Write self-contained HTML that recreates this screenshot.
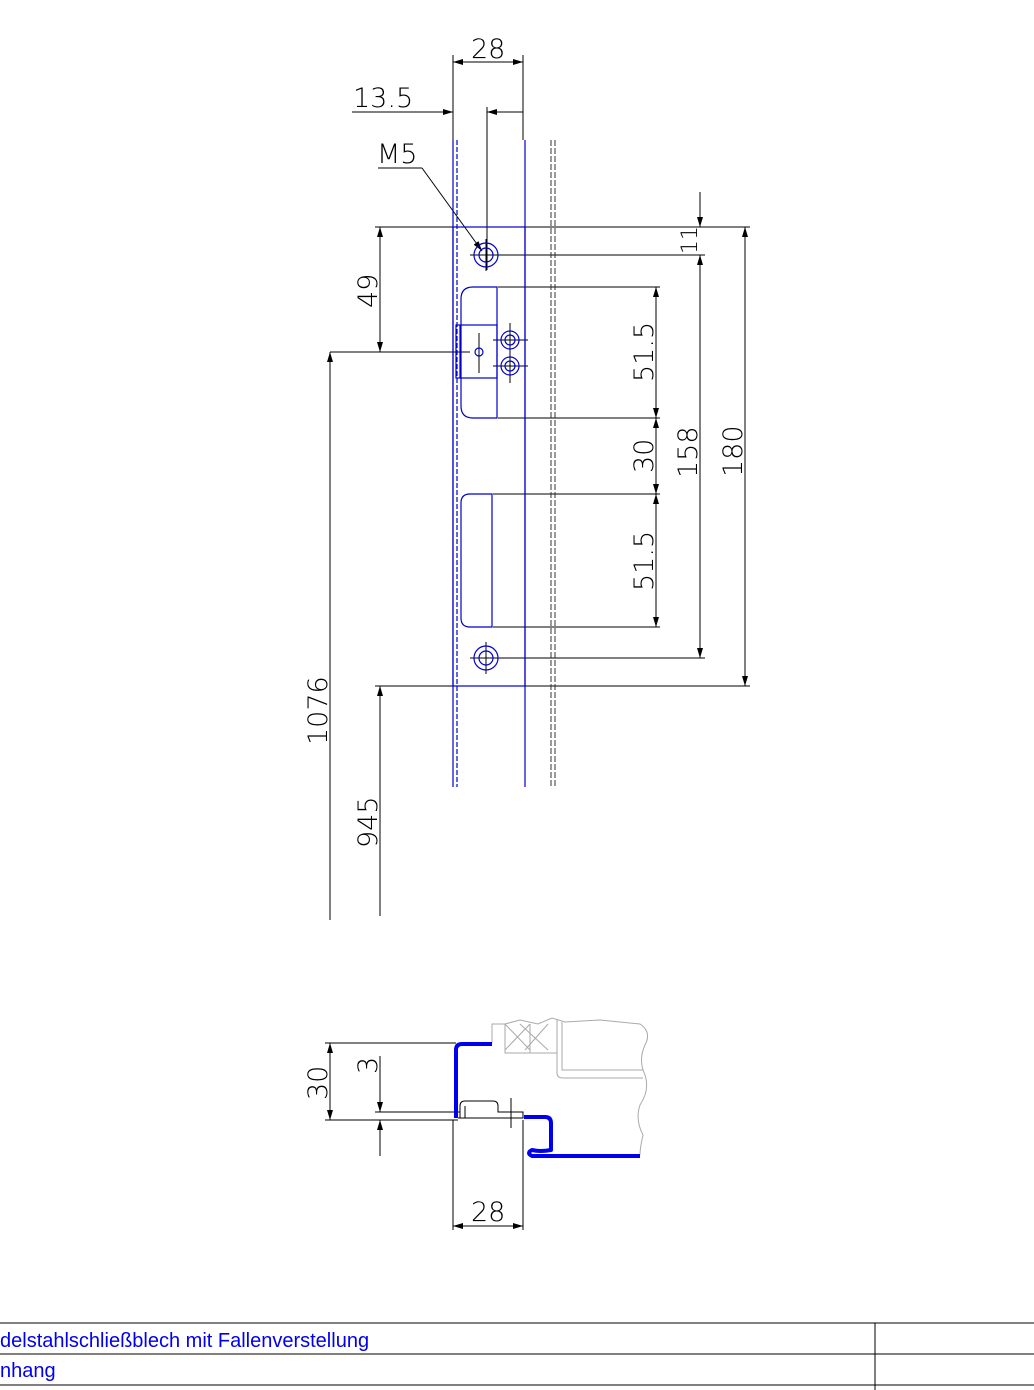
<!DOCTYPE html>
<html><head><meta charset="utf-8"><style>
body{margin:0;background:#fff;width:1034px;height:1390px;overflow:hidden}
svg{display:block}
text{font-family:"DejaVu Sans","Liberation Sans",sans-serif}
.d{font-size:27px;fill:#000;font-weight:200}
.t{font-family:"Liberation Sans",sans-serif;font-size:20px;fill:#0000ee}
</style></head><body>
<svg width="1034" height="1390" viewBox="0 0 1034 1390" xmlns="http://www.w3.org/2000/svg">
<defs>
<marker id="a" viewBox="0 0 10 6" refX="10" refY="3" markerWidth="14" markerHeight="6" markerUnits="userSpaceOnUse" orient="auto-start-reverse"><path d="M0,0L10,3L0,6z" fill="#000"/></marker>
</defs>
<g stroke="#000" stroke-width="1" fill="none">
<line x1="453" y1="55" x2="453" y2="140"/><line x1="523" y1="55" x2="523" y2="140"/>
<line x1="453" y1="62" x2="523" y2="62" marker-start="url(#a)" marker-end="url(#a)"/>
<line x1="352" y1="112" x2="453" y2="112" marker-end="url(#a)"/>
<line x1="523" y1="112" x2="487" y2="112" marker-end="url(#a)"/>
<line x1="487" y1="107" x2="487" y2="270"/>
<line x1="378" y1="168" x2="422" y2="168"/>
<line x1="422" y1="168" x2="482" y2="251" marker-end="url(#a)"/>
<line x1="498" y1="287" x2="660" y2="287"/><line x1="498" y1="418" x2="660" y2="418"/>
<line x1="493" y1="494" x2="660" y2="494"/><line x1="493" y1="627" x2="660" y2="627"/>
<line x1="500" y1="255" x2="705" y2="255"/><line x1="500" y1="658" x2="705" y2="658"/>
<line x1="375" y1="227" x2="750" y2="227"/><line x1="375" y1="686" x2="750" y2="686"/>
<line x1="656" y1="287" x2="656" y2="418" marker-start="url(#a)" marker-end="url(#a)"/>
<line x1="656" y1="418" x2="656" y2="494" marker-start="url(#a)" marker-end="url(#a)"/>
<line x1="656" y1="494" x2="656" y2="627" marker-start="url(#a)" marker-end="url(#a)"/>
<line x1="700" y1="255" x2="700" y2="658" marker-start="url(#a)" marker-end="url(#a)"/>
<line x1="700" y1="192" x2="700" y2="227" marker-end="url(#a)"/>
<line x1="745" y1="227" x2="745" y2="686" marker-start="url(#a)" marker-end="url(#a)"/>
<line x1="330" y1="352" x2="470" y2="352"/>
<line x1="380" y1="227" x2="380" y2="352" marker-start="url(#a)" marker-end="url(#a)"/>
<line x1="330" y1="352" x2="330" y2="920" marker-start="url(#a)"/>
<line x1="380" y1="686" x2="380" y2="916" marker-start="url(#a)"/>
<line x1="470" y1="255" x2="502" y2="255"/><line x1="486" y1="239" x2="486" y2="271"/>
<line x1="470" y1="658" x2="502" y2="658"/><line x1="486" y1="642" x2="486" y2="674"/>
<line x1="493" y1="340" x2="528" y2="340"/><line x1="510" y1="323" x2="510" y2="357"/>
<line x1="493" y1="366" x2="528" y2="366"/><line x1="510" y1="349" x2="510" y2="383"/>
<line x1="479" y1="333" x2="479" y2="373"/>
</g>
<g stroke="#0000cc" stroke-width="1.2" fill="none">
<line x1="453" y1="140" x2="453" y2="787"/>
<line x1="457" y1="140" x2="457" y2="787" stroke-dasharray="5,2"/>
<line x1="525" y1="140" x2="525" y2="787"/>
<rect x="453" y="227" width="72" height="459"/>
<circle cx="486" cy="255" r="12"/><circle cx="486" cy="255" r="7"/>
<circle cx="486" cy="658" r="12"/><circle cx="486" cy="658" r="7"/>
<path d="M497,287H473Q461,287 461,299V406Q461,418 473,418H497Z"/>
<path d="M492,494H470Q461,494 461,503V618Q461,627 470,627H492Z"/>
<rect x="456" y="325" width="41" height="53"/><line x1="460" y1="325" x2="460" y2="378"/>
<circle cx="479" cy="352" r="4"/>
<circle cx="510" cy="340" r="9"/><circle cx="510" cy="340" r="5"/>
<circle cx="510" cy="366" r="9"/><circle cx="510" cy="366" r="5"/>
</g>
<g stroke="#333" stroke-width="1" stroke-dasharray="6,2">
<line x1="551" y1="140" x2="551" y2="787"/><line x1="555" y1="140" x2="555" y2="787"/>
</g>
<text class="d" x="471" y="58">28</text>
<text class="d" x="353" y="107">13.5</text>
<text class="d" x="377" y="163">M5</text>
<text class="d" transform="translate(377,308) rotate(-90)">49</text>
<text class="d" transform="translate(327,745) rotate(-90)">1076</text>
<text class="d" transform="translate(377,848) rotate(-90)">945</text>
<text class="d" transform="translate(653,382) rotate(-90)">51.5</text>
<text class="d" transform="translate(653,473) rotate(-90)">30</text>
<text class="d" transform="translate(653,591) rotate(-90)">51.5</text>
<text class="d" transform="translate(697,478) rotate(-90)">158</text>
<text class="d" transform="translate(742,477) rotate(-90)">180</text>
<text class="d" transform="translate(697,254) rotate(-90)" style="font-size:22px">11</text>
<g stroke="#aaa" stroke-width="1" fill="none">
<path d="M492,1043V1024H505L520,1020L538,1024L552,1018L565,1022L600,1020L640,1024Q652,1032 645,1045Q638,1060 645,1075Q650,1090 640,1105Q635,1120 643,1135Q640,1148 640,1155"/>
<path d="M505,1024V1053H557V1020M557,1053V1073Q557,1078 563,1078H643M562,1022V1070H643"/>
<path d="M505,1024L530,1050M530,1024L505,1050M520,1024L548,1050M548,1024L525,1050M530,1024V1053"/>
</g>
<g stroke="#000" stroke-width="1" fill="none">
<line x1="325" y1="1043" x2="456" y2="1043"/><line x1="325" y1="1120" x2="458" y2="1120"/>
<line x1="375" y1="1112" x2="460" y2="1112"/>
<line x1="330" y1="1043" x2="330" y2="1120" marker-start="url(#a)" marker-end="url(#a)"/>
<line x1="380" y1="1056" x2="380" y2="1112" marker-end="url(#a)"/>
<line x1="380" y1="1156" x2="380" y2="1120" marker-end="url(#a)"/>
<line x1="453" y1="1120" x2="453" y2="1230"/><line x1="523" y1="1120" x2="523" y2="1230"/>
<line x1="453" y1="1226" x2="523" y2="1226" marker-start="url(#a)" marker-end="url(#a)"/>
<path d="M460,1118V1106Q460,1101 465,1101H493Q498,1101 498,1106V1112H523V1118H458"/>
<line x1="465" y1="1118" x2="465" y2="1106"/>
<line x1="511" y1="1098" x2="511" y2="1128"/>
</g>
<g stroke="#0000ee" stroke-width="4" fill="none" stroke-linejoin="round">
<path d="M492,1044H462Q456,1044 456,1050V1118"/>
<path d="M524,1117H545Q551,1117 551,1123V1150Q540,1152 532,1150Q526,1153 532,1156H640"/>
</g>
<text class="d" transform="translate(327,1100) rotate(-90)">30</text>
<text class="d" transform="translate(377,1074) rotate(-90)">3</text>
<text class="d" x="471" y="1221">28</text>
<g stroke="#000" stroke-width="1">
<line x1="0" y1="1323" x2="1034" y2="1323"/><line x1="0" y1="1354" x2="1034" y2="1354"/>
<line x1="0" y1="1385" x2="1034" y2="1385"/><line x1="875" y1="1323" x2="875" y2="1390"/>
</g>
<text class="t" x="0" y="1347">delstahlschließblech mit Fallenverstellung</text>
<text class="t" x="0" y="1377">nhang</text>
</svg>
</body></html>
